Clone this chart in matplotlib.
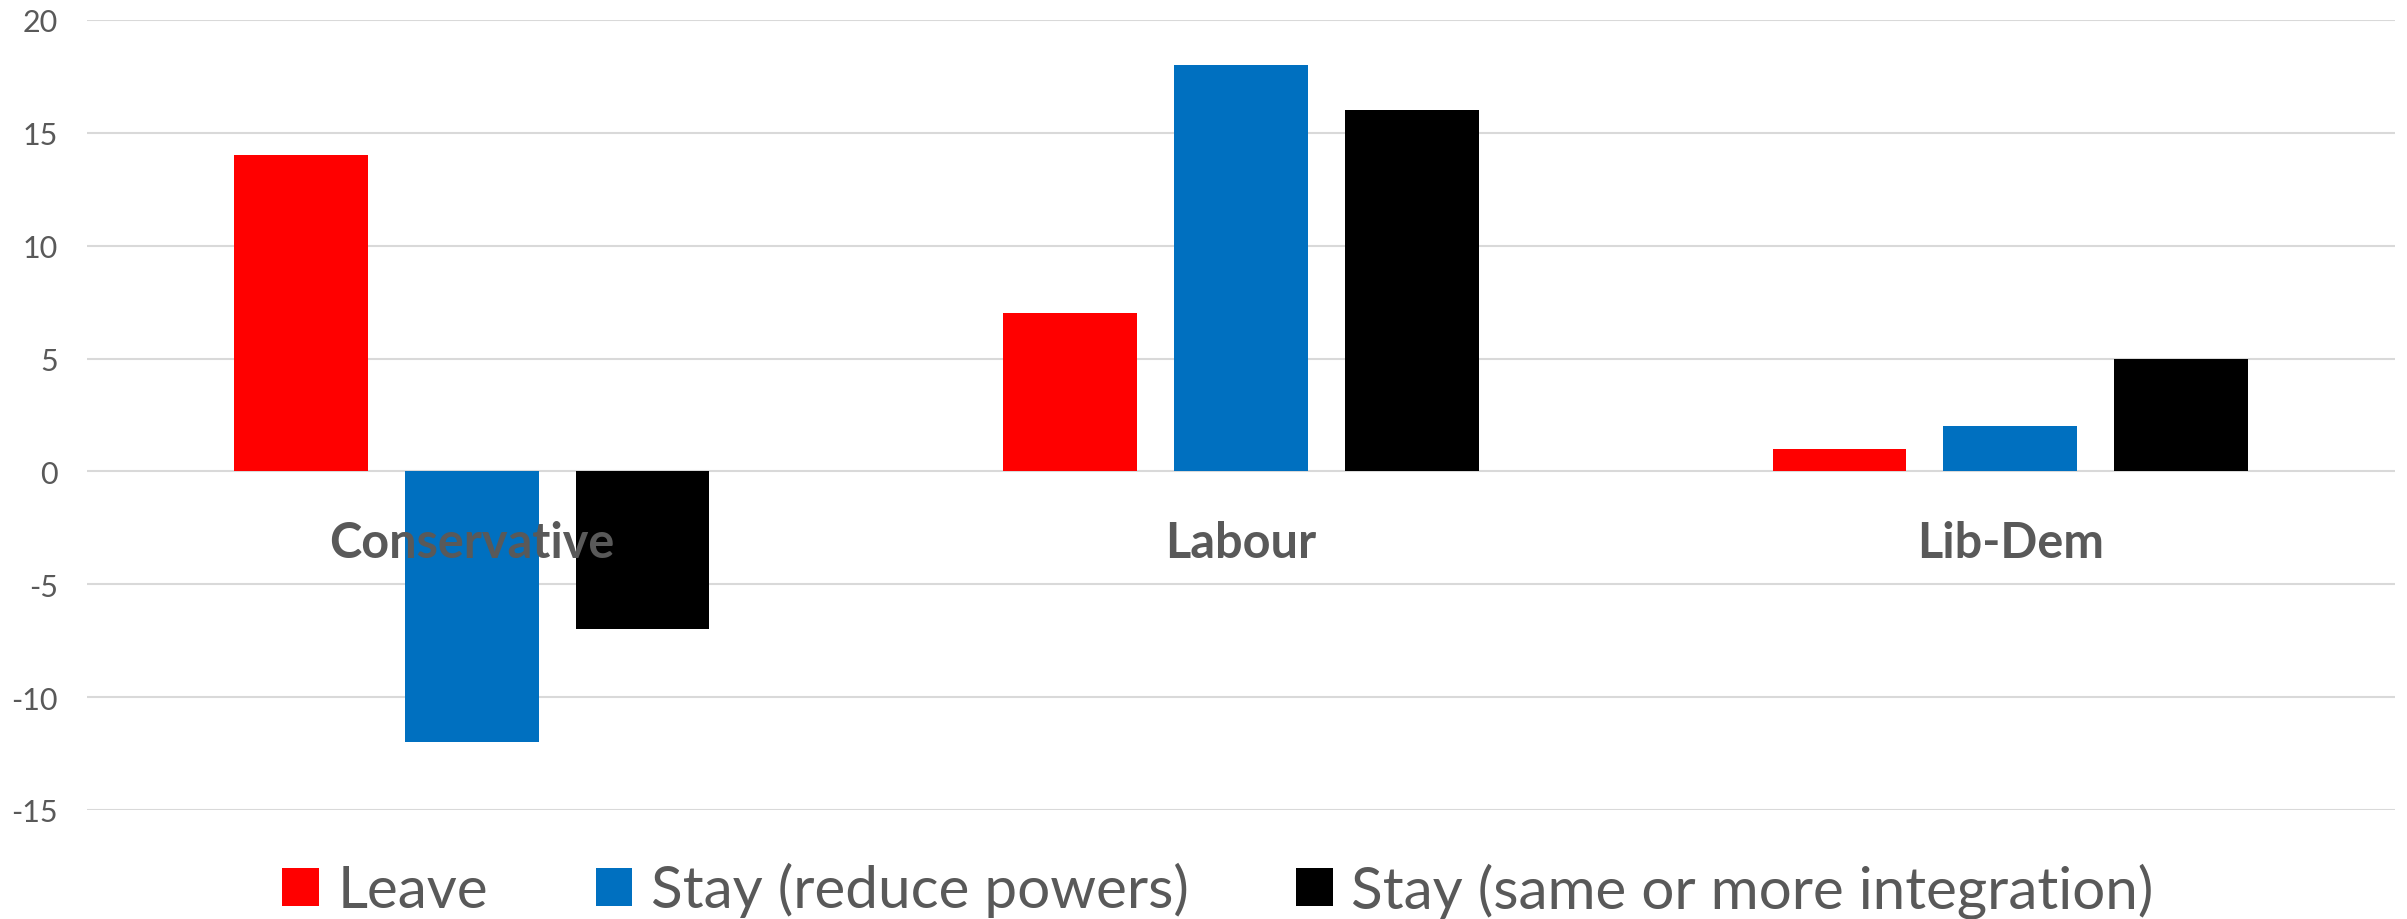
import matplotlib
matplotlib.use("Agg")
import matplotlib.pyplot as plt
from matplotlib.patches import Patch
import numpy as np

categories = ["Conservative", "Labour", "Lib-Dem"]
series_names = ["Leave", "Stay (reduce powers)", "Stay (same or more integration)"]
leave = [14, 7, 1]
stay_reduce = [-12, 18, 2]
stay_more = [-7, 16, 5]
yticks = [-15, -10, -5, 0, 5, 10, 15, 20]

colors = ["#FF0000", "#0070C0", "#000000"]
text_color = "#595959"
plt.rcParams['font.family'] = ['Lato', 'DejaVu Sans']

fig = plt.figure(figsize=(24.07, 9.2), dpi=100)
ax = fig.add_axes([87/2407, 1-811/920, (2395-87)/2407, (811-21)/920])

x = np.arange(len(categories))
width = 0.174
step = 0.222
for i, (vals, c) in enumerate(zip([leave, stay_reduce, stay_more], colors)):
    ax.bar(x + (i-1)*step, vals, width=width, color=c, zorder=3)

ax.set_xlim(-0.5, len(categories)-0.5)
ax.set_ylim(-15, 20)
ax.set_yticks(yticks)
ax.set_yticklabels([str(t) for t in yticks])
ax.yaxis.grid(True, color="#D9D9D9", linewidth=1.5, zorder=0)
ax.set_axisbelow(True)
for s in ax.spines.values():
    s.set_visible(False)
ax.tick_params(axis='y', length=0, pad=21, labelsize=22, labelcolor=text_color)
ax.set_xticks([])

for xi, cat in zip(x, categories):
    ax.text(xi, -3.77, cat, ha='center', va='baseline', fontsize=35,
            fontweight='bold', color=text_color, zorder=5)

handles = [Patch(facecolor=c, edgecolor='none') for c in colors]
fig.legend(handles, series_names, loc='center', bbox_to_anchor=(0.506, 1-891/920),
           ncol=3, frameon=False, fontsize=42, handlelength=0.62, handleheight=0.62,
           handletextpad=0.32, columnspacing=1.85, labelcolor=text_color,
           borderpad=0, borderaxespad=0)

fig.savefig("out.png", dpi=100)
